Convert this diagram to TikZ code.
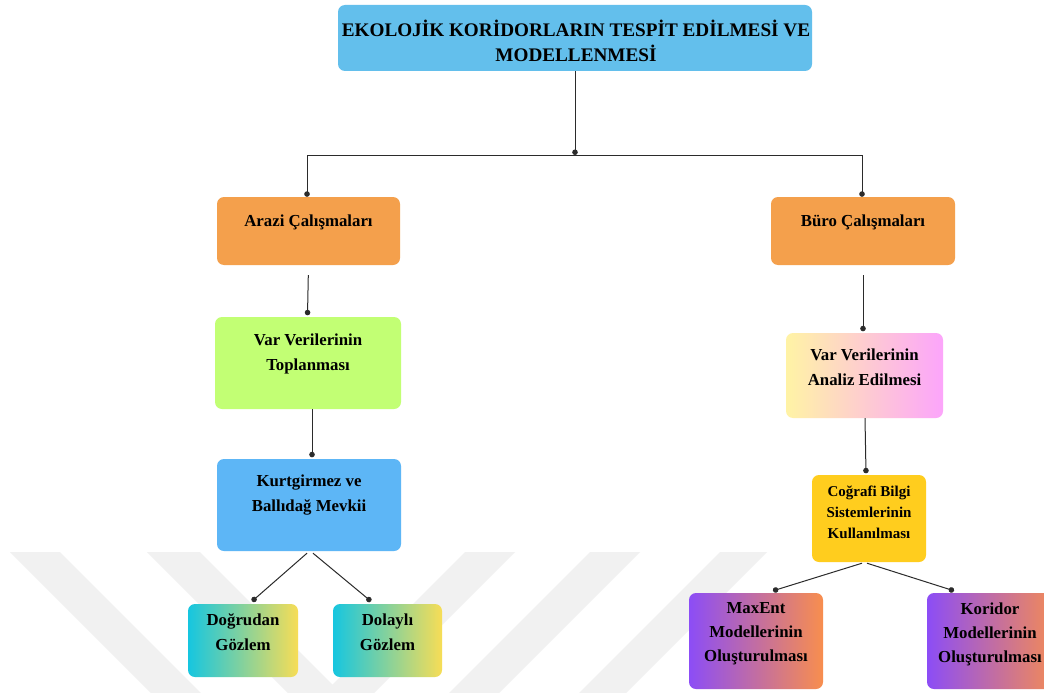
\documentclass[tikz,border=0pt]{standalone}
\usepackage{fontspec}
\setmainfont{Liberation Serif}
\usetikzlibrary{arrows.meta}
\definecolor{ctitle}{HTML}{63BFEC}
\definecolor{corange}{HTML}{F4A04C}
\definecolor{cgreen}{HTML}{C2FF74}
\definecolor{cblue}{HTML}{5DB6F6}
\definecolor{ccyan}{HTML}{16C6E0}
\definecolor{cyell}{HTML}{F7DD56}
\definecolor{cpale}{HTML}{FFF3A5}
\definecolor{cpink}{HTML}{FCA5FB}
\definecolor{cgold}{HTML}{FFCD1E}
\definecolor{cpurp}{HTML}{8C4DF6}
\definecolor{cora2}{HTML}{F88E4E}
\definecolor{cline}{HTML}{2B2B2B}
\definecolor{cwm}{HTML}{F1F1F1}
\begin{document}
\begin{tikzpicture}[x=1pt,y=-1pt,
  box/.style={rounded corners=7pt, inner sep=0pt, draw=none},
  lbl/.style={font=\fontsize{16.8}{25}\selectfont\bfseries, align=center, inner sep=0pt, text=black},
  conn/.style={draw=cline, line width=1pt, -{Circle[length=5.5pt]}},
  plain/.style={draw=cline, line width=1pt}]
\useasboundingbox (0,0) rectangle (1044,693);
\fill[white] (0,0) rectangle (1044,693);
% watermark
\fill[cwm] (10,552) -- (60,552) -- (201,693) -- (151,693) -- cycle;
\fill[cwm] (147,552) -- (200,552) -- (341,693) -- (288,693) -- cycle;
\fill[cwm] (465,552) -- (515,552) -- (374,693) -- (324,693) -- cycle;
\fill[cwm] (590,552) -- (640,552) -- (499,693) -- (449,693) -- cycle;
\fill[cwm] (720,552) -- (767,552) -- (626,693) -- (579,693) -- cycle;
% boxes
\node[box, fill=ctitle, minimum width=474pt, minimum height=66pt] (title) at (575,38) {};
\node[lbl, font=\fontsize{19.2}{25}\selectfont\bfseries] (titlet) at (576,40.5) {EKOLOJİK KORİDORLARIN TESPİT EDİLMESİ VE\\MODELLENMESİ};
\node[box, fill=corange, minimum width=183pt, minimum height=68pt] (arazi) at (308.5,231) {};
\node[lbl] (arazit) at (308.5,222) {Arazi Çalışmaları};
\node[box, fill=corange, minimum width=184pt, minimum height=68pt] (buro) at (863,231) {};
\node[lbl] (burot) at (863,222) {Büro Çalışmaları};
\node[box, fill=cgreen, minimum width=186pt, minimum height=92pt] (toplan) at (308,363) {};
\node[lbl] (toplant) at (308,353.5) {Var Verilerinin\\Toplanması};
\node[box, fill=cblue, minimum width=184pt, minimum height=92pt] (kurt) at (309,505) {};
\node[lbl] (kurtt) at (309,495) {Kurtgirmez ve\\Ballıdağ Mevkii};
\node[box, left color=ccyan, right color=cyell, minimum width=110pt, minimum height=73pt] (dogru) at (243,640.5) {};
\node[lbl] (dogrut) at (243,632) {Doğrudan\\Gözlem};
\node[box, left color=ccyan, right color=cyell, minimum width=109pt, minimum height=73pt] (dolay) at (387.5,640.5) {};
\node[lbl] (dolayt) at (387.5,632) {Dolaylı\\Gözlem};
\node[box, left color=cpale, right color=cpink, minimum width=157pt, minimum height=85pt] (analiz) at (864.5,375.5) {};
\node[lbl] (analizt) at (864.5,367) {Var Verilerinin\\Analiz Edilmesi};
\node[box, fill=cgold, minimum width=114pt, minimum height=87pt] (cog) at (869,518.5) {};
\node[lbl, font=\fontsize{15}{21}\selectfont\bfseries] (cogt) at (869,512) {Coğrafi Bilgi\\Sistemlerinin\\Kullanılması};
\node[box, left color=cpurp, right color=cora2, minimum width=134pt, minimum height=96pt] (maxent) at (756,641) {};
\node[lbl, font=\fontsize{16.8}{24}\selectfont\bfseries] (maxentt) at (756,634) {MaxEnt\\Modellerinin\\Oluşturulması};
\node[box, left color=cpurp, right color=cora2, minimum width=134pt, minimum height=96pt] (korid) at (994,641) {};
\node[lbl, font=\fontsize{16.8}{24}\selectfont\bfseries] (koridt) at (990,634) {Koridor\\Modellerinin\\Oluşturulması};
% connectors
\coordinate (hub) at (575,155);
\coordinate (hubL) at (307,155);
\coordinate (hubR) at (862,155);
\draw[conn] (title.south) -- (hub);
\draw[plain] (hubL) -- (hubR);
\draw[conn] (hubL) -- (hubL |- arazi.north);
\draw[conn] (hubR) -- (hubR |- buro.north);
\draw[conn, shorten <=10pt] (arazi.south) -- ([xshift=-0.5pt,yshift=1.5pt]toplan.north);
\draw[conn] ([xshift=4pt]toplan.south) -- ([xshift=3pt,yshift=1.5pt]kurt.north);
\draw[conn] ([xshift=-2pt,yshift=-2pt]kurt.south) -- ([xshift=9pt,yshift=2.5pt]dogru.north);
\draw[conn] ([xshift=4pt,yshift=-2pt]kurt.south) -- ([xshift=-16.5pt,yshift=2.5pt]dolay.north);
\draw[conn, shorten <=10pt] (buro.south) -- ([xshift=-1.5pt,yshift=1.5pt]analiz.north);
\draw[conn] ([xshift=0.5pt]analiz.south) -- ([xshift=-3pt,yshift=1.5pt]cog.north);
\draw[conn] ([xshift=-7pt,yshift=-1pt]cog.south) -- ([xshift=17pt,yshift=2pt]maxent.north);
\draw[conn] ([xshift=-2pt,yshift=-1pt]cog.south) -- ([xshift=-40pt,yshift=2pt]korid.north);
\end{tikzpicture}
\end{document}
